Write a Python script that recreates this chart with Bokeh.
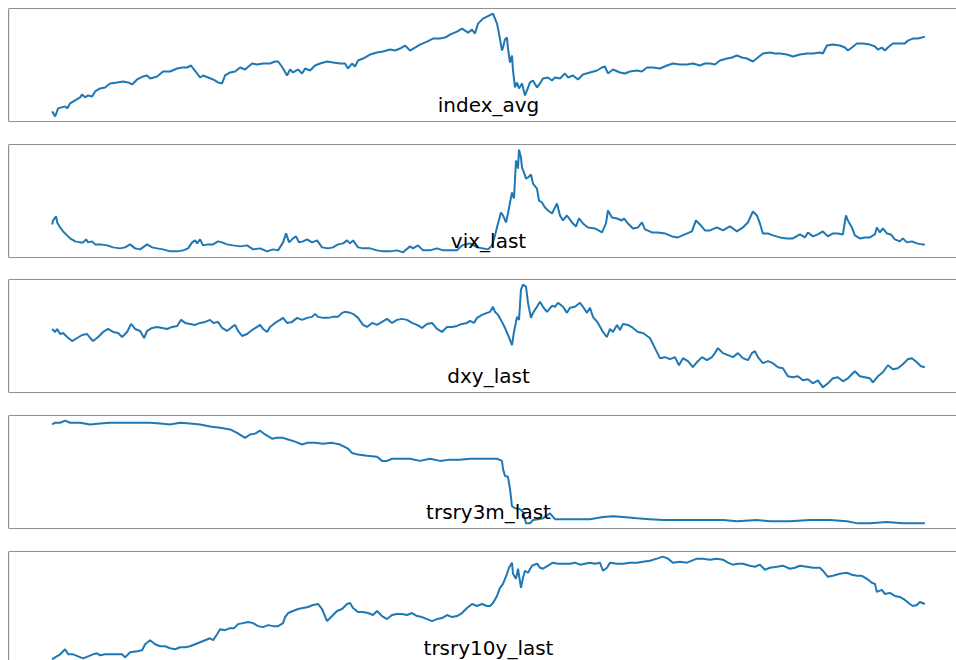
from bokeh.plotting import figure
from bokeh.layouts import column
from bokeh.models import Span, Label, Range1d
from bokeh.embed import file_html
from bokeh.resources import INLINE

# ---------------- data (day = days since the first observation) ----------------
index_avg_day = [
    0, 3, 6, 13, 15, 18, 23, 28, 30, 33,
    36, 40, 43, 48, 53, 58, 65, 71, 76, 80,
    85, 91, 95, 98, 105, 111, 118, 125, 130, 135,
    139, 141, 145, 148, 151, 156, 161, 166, 170, 173,
    178, 183, 188, 193, 200, 205, 211, 218, 223, 226,
    229, 231, 235, 238, 241, 246, 250, 253, 258, 263,
    268, 275, 281, 288, 293, 296, 300, 303, 306, 311,
    318, 325, 331, 338, 343, 348, 353, 358, 363, 368,
    375, 381, 388, 393, 398, 405, 410, 413, 416, 420,
    423, 426, 431, 435, 439, 441, 445, 447, 450, 451,
    453, 455, 456, 458, 460, 461, 463, 465, 467, 470,
    473, 475, 478, 481, 485, 488, 491, 496, 500, 503,
    508, 513, 516, 521, 526, 531, 538, 545, 550, 553,
    556, 561, 568, 573, 578, 585, 590, 595, 601, 608,
    615, 621, 628, 635, 641, 648, 653, 658, 663, 668,
    675, 680, 685, 690, 695, 701, 706, 711, 718, 723,
    728, 735, 741, 748, 755, 761, 768, 771, 775, 781,
    788, 793, 796, 800, 805, 811, 818, 823, 826, 830,
    833, 836, 841, 848, 853, 856, 861, 866, 870, 873,
]
index_avg = [
    2120, 2020, 2180, 2220, 2180, 2280, 2340, 2400, 2460, 2400,
    2440, 2420, 2520, 2580, 2600, 2680, 2700, 2720, 2700, 2660,
    2760, 2820, 2840, 2780, 2820, 2920, 2920, 2980, 3000, 3000,
    3040, 2980, 2880, 2800, 2840, 2800, 2760, 2700, 2680, 2840,
    2900, 2920, 3000, 2960, 3080, 3060, 3080, 3080, 3120, 3120,
    3040, 2980, 2840, 2960, 2900, 2960, 2880, 2980, 2940, 3040,
    3080, 3120, 3100, 3080, 3080, 2980, 3080, 3020, 3140, 3180,
    3260, 3300, 3320, 3360, 3340, 3380, 3440, 3340, 3400, 3460,
    3520, 3580, 3580, 3600, 3660, 3720, 3780, 3740, 3700, 3760,
    3680, 3880, 3980, 4020, 4060, 4080, 3880, 3680, 3340, 3400,
    3560, 3600, 3380, 3100, 3240, 2940, 2600, 2700, 2580, 2680,
    2440, 2540, 2700, 2740, 2600, 2680, 2780, 2800, 2740, 2800,
    2780, 2880, 2800, 2840, 2760, 2860, 2900, 2940, 3000, 3020,
    2880, 2960, 2900, 2880, 2920, 2940, 2920, 3000, 3000, 2980,
    3040, 3080, 3060, 3060, 3080, 3040, 3080, 3080, 3060, 3140,
    3180, 3200, 3240, 3200, 3180, 3120, 3200, 3280, 3300, 3280,
    3280, 3260, 3220, 3260, 3280, 3280, 3300, 3280, 3440, 3460,
    3440, 3400, 3340, 3400, 3480, 3480, 3460, 3420, 3360, 3400,
    3340, 3400, 3480, 3480, 3480, 3540, 3580, 3580, 3600, 3620,
]

vix_last_day = [
    0, 1, 4, 5, 8, 11, 15, 18, 23, 28,
    31, 34, 36, 40, 43, 48, 55, 61, 68, 73,
    78, 83, 88, 95, 100, 105, 111, 118, 125, 131,
    136, 140, 143, 145, 148, 151, 156, 161, 166, 170,
    175, 181, 188, 195, 201, 208, 215, 221, 226, 231,
    234, 237, 241, 244, 247, 251, 255, 260, 265, 270,
    276, 281, 286, 291, 295, 298, 301, 306, 311, 318,
    325, 331, 338, 345, 351, 358, 361, 366, 371, 378,
    385, 391, 398, 405, 410, 418, 425, 431, 436, 440,
    443, 446, 449, 451, 454, 456, 458, 460, 462, 464,
    466, 467, 469, 470, 472, 474, 476, 479, 481, 485,
    487, 490, 493, 496, 500, 503, 505, 508, 511, 515,
    520, 524, 527, 531, 536, 543, 550, 554, 556, 560,
    565, 570, 572, 576, 581, 586, 590, 593, 600, 606,
    613, 620, 626, 633, 640, 644, 648, 653, 658, 665,
    671, 678, 685, 691, 696, 701, 705, 708, 711, 716,
    721, 728, 735, 741, 748, 753, 756, 761, 766, 771,
    776, 781, 786, 791, 794, 796, 800, 803, 808, 813,
    818, 823, 825, 828, 831, 835, 839, 843, 848, 851,
    855, 860, 865, 870, 873,
]
vix_last = [
    29.9, 32.7, 35.5, 31.3, 27.8, 25.0, 22.2, 20.1, 18.0, 17.3,
    17.3, 19.4, 17.3, 18.0, 15.9, 15.9, 15.2, 13.8, 13.1, 13.8,
    15.9, 13.1, 12.4, 15.9, 13.8, 13.1, 12.4, 11.0, 11.0, 11.7,
    13.1, 17.3, 18.7, 16.6, 19.4, 15.2, 15.9, 15.9, 18.0, 17.3,
    15.9, 15.2, 14.5, 15.2, 12.4, 13.1, 11.0, 12.4, 11.7, 17.3,
    23.6, 17.3, 20.1, 21.5, 17.3, 18.0, 19.4, 17.3, 18.7, 13.8,
    13.1, 13.8, 15.9, 16.6, 18.7, 16.6, 18.7, 13.8, 13.1, 13.1,
    11.7, 11.0, 11.0, 11.7, 10.3, 14.5, 13.1, 15.2, 11.7, 11.7,
    13.1, 11.7, 11.7, 11.7, 15.2, 16.6, 13.8, 13.1, 12.4, 15.2,
    22.2, 30.6, 38.3, 36.2, 31.3, 37.6, 45.3, 52.3, 48.1, 74.7,
    69.1, 82.4, 76.8, 69.8, 66.3, 62.1, 62.8, 64.9, 58.6, 55.1,
    46.7, 45.3, 41.8, 39.7, 37.6, 41.8, 44.6, 36.2, 32.7, 36.2,
    31.3, 28.5, 34.1, 30.6, 27.8, 27.1, 24.3, 30.6, 39.7, 34.8,
    34.1, 32.7, 34.1, 30.6, 27.1, 27.8, 31.3, 26.4, 24.3, 24.3,
    23.6, 21.5, 20.8, 22.9, 25.0, 32.7, 29.9, 25.7, 25.7, 27.8,
    25.7, 28.5, 25.0, 27.8, 31.3, 39.0, 36.2, 30.6, 23.6, 23.6,
    22.2, 20.8, 20.1, 20.1, 22.9, 20.8, 24.3, 21.5, 22.9, 25.0,
    21.5, 23.6, 23.6, 22.9, 36.2, 32.7, 27.8, 22.2, 20.1, 20.8,
    20.8, 22.9, 27.8, 24.3, 27.1, 23.6, 22.9, 19.4, 18.0, 20.1,
    17.3, 18.0, 16.6, 15.9, 15.9,
]

dxy_last_day = [
    0, 3, 5, 8, 11, 15, 20, 25, 30, 35,
    38, 41, 46, 51, 56, 61, 66, 70, 75, 79,
    83, 88, 92, 95, 100, 105, 110, 115, 120, 125,
    129, 133, 138, 143, 148, 153, 158, 161, 166, 170,
    175, 180, 183, 186, 190, 195, 200, 205, 208, 211,
    215, 218, 223, 228, 231, 235, 240, 245, 250, 255,
    260, 263, 266, 271, 276, 281, 286, 290, 293, 298,
    301, 306, 311, 315, 320, 325, 330, 335, 340, 345,
    350, 355, 360, 365, 370, 375, 380, 385, 390, 395,
    400, 405, 410, 415, 418, 422, 425, 430, 435, 438,
    441, 443, 446, 450, 453, 456, 460, 462, 465, 467,
    469, 471, 474, 476, 479, 481, 485, 488, 491, 495,
    500, 503, 506, 511, 515, 518, 523, 528, 531, 535,
    538, 541, 546, 551, 555, 558, 561, 565, 568, 571,
    576, 581, 586, 591, 598, 603, 608, 613, 618, 623,
    627, 631, 636, 641, 645, 650, 655, 660, 663, 666,
    671, 676, 681, 686, 691, 696, 700, 703, 706, 711,
    716, 721, 726, 731, 736, 741, 746, 751, 756, 761,
    766, 771, 776, 781, 786, 791, 796, 803, 808, 813,
    818, 821, 826, 831, 836, 841, 846, 851, 856, 860,
    865, 869, 873,
]
dxy_last = [
    96.94, 96.55, 96.94, 96.29, 96.42, 95.90, 95.38, 95.77, 96.16, 96.29,
    95.77, 95.38, 95.90, 96.55, 96.94, 96.55, 96.42, 95.90, 96.55, 97.59,
    96.94, 96.68, 95.77, 96.68, 97.07, 97.20, 97.07, 96.94, 97.20, 97.33,
    98.11, 97.72, 97.59, 97.46, 97.72, 97.85, 98.11, 97.72, 97.85, 97.07,
    96.68, 97.20, 97.46, 96.68, 96.03, 96.29, 96.81, 97.20, 97.46, 96.94,
    96.55, 97.20, 97.72, 98.11, 98.37, 97.72, 97.85, 98.37, 98.11, 98.37,
    98.50, 98.89, 98.50, 98.37, 98.37, 98.50, 98.50, 99.02, 99.15, 99.02,
    98.89, 98.37, 97.46, 97.20, 97.72, 97.46, 97.85, 98.24, 97.72, 98.11,
    98.24, 98.11, 97.72, 97.46, 97.07, 97.59, 97.72, 96.94, 96.55, 97.20,
    97.20, 97.33, 97.59, 97.72, 97.98, 97.72, 98.37, 98.76, 99.02, 99.15,
    99.80, 99.15, 98.76, 97.85, 97.07, 96.16, 94.86, 96.55, 98.50, 98.11,
    102.01, 102.66, 102.40, 100.32, 98.37, 99.02, 99.80, 100.45, 99.80, 99.15,
    99.93, 99.80, 100.32, 99.80, 99.02, 99.67, 99.80, 100.32, 99.80, 99.02,
    99.67, 98.50, 97.72, 96.55, 95.90, 96.94, 96.55, 97.46, 96.81, 97.59,
    97.46, 97.07, 96.55, 96.42, 95.77, 94.47, 93.17, 93.30, 93.04, 93.30,
    92.26, 93.17, 92.78, 92.00, 92.65, 93.30, 92.91, 93.30, 93.82, 94.47,
    93.82, 93.56, 93.30, 93.82, 93.17, 92.91, 93.82, 94.08, 93.30, 92.52,
    92.78, 92.52, 92.00, 91.87, 90.83, 90.70, 90.83, 90.31, 90.44, 89.92,
    90.31, 89.40, 89.92, 90.57, 90.70, 90.18, 90.57, 91.48, 90.83, 90.70,
    90.57, 90.05, 90.83, 91.35, 92.26, 91.74, 91.87, 92.39, 93.04, 93.17,
    92.65, 92.13, 92.00,
]

trsry3m_last_day = [
    0, 3, 8, 13, 18, 28, 38, 48, 58, 68,
    78, 88, 98, 108, 118, 128, 138, 148, 158, 168,
    178, 185, 193, 198, 203, 208, 213, 220, 225, 231,
    236, 243, 250, 255, 263, 271, 280, 288, 296, 300,
    306, 315, 325, 330, 335, 340, 348, 358, 368, 378,
    388, 398, 408, 418, 428, 438, 445, 450, 451, 453,
    456, 458, 460, 463, 468, 471, 474, 478, 481, 486,
    491, 498, 503, 511, 525, 538, 551, 561, 571, 585,
    598, 611, 631, 651, 671, 685, 705, 718, 738, 758,
    778, 795, 806, 818, 835, 851, 873,
]
trsry3m_last = [
    2.38, 2.42, 2.42, 2.47, 2.42, 2.42, 2.38, 2.40, 2.42, 2.42,
    2.42, 2.42, 2.42, 2.40, 2.38, 2.42, 2.40, 2.38, 2.33, 2.30,
    2.26, 2.18, 2.06, 2.14, 2.16, 2.23, 2.14, 2.04, 2.06, 2.06,
    2.02, 1.97, 1.90, 1.94, 1.94, 1.92, 1.94, 1.90, 1.80, 1.70,
    1.66, 1.63, 1.61, 1.51, 1.51, 1.56, 1.56, 1.56, 1.51, 1.56,
    1.51, 1.54, 1.54, 1.56, 1.56, 1.56, 1.56, 1.51, 1.32, 1.15,
    1.13, 0.84, 0.43, 0.38, 0.36, 0.29, 0.02, 0.02, 0.10, 0.12,
    0.14, 0.26, 0.12, 0.12, 0.12, 0.12, 0.17, 0.19, 0.17, 0.14,
    0.12, 0.10, 0.10, 0.10, 0.10, 0.07, 0.10, 0.07, 0.07, 0.10,
    0.10, 0.07, 0.02, 0.02, 0.05, 0.02, 0.02,
]

trsry10y_last_day = [
    0, 3, 8, 13, 16, 21, 26, 31, 36, 41,
    45, 48, 53, 58, 65, 70, 73, 78, 85, 90,
    93, 98, 103, 108, 113, 118, 123, 128, 133, 138,
    143, 148, 153, 158, 161, 165, 168, 173, 178, 182,
    186, 191, 196, 201, 206, 211, 216, 221, 226, 231,
    233, 236, 241, 246, 251, 256, 261, 266, 270, 275,
    280, 285, 290, 295, 298, 301, 306, 311, 316, 321,
    325, 330, 335, 340, 345, 350, 355, 360, 365, 370,
    375, 380, 385, 390, 395, 400, 405, 410, 415, 420,
    425, 430, 435, 438, 441, 445, 448, 451, 455, 457,
    460, 461, 464, 466, 469, 471, 473, 476, 480, 485,
    488, 491, 496, 501, 506, 511, 518, 523, 528, 533,
    538, 543, 548, 551, 555, 558, 565, 571, 578, 585,
    591, 598, 605, 611, 616, 621, 628, 635, 640, 645,
    651, 658, 665, 671, 676, 681, 686, 691, 698, 703,
    708, 713, 718, 725, 731, 738, 743, 748, 755, 761,
    768, 771, 776, 781, 788, 795, 800, 805, 810, 815,
    820, 823, 825, 830, 833, 838, 843, 848, 853, 858,
    861, 865, 868, 873,
]
trsry10y_last = [
    120.0, 120.4, 121.0, 122.0, 121.0, 121.0, 120.6, 120.2, 120.6, 121.0,
    121.2, 120.8, 121.0, 121.0, 121.0, 121.0, 120.4, 121.4, 121.6, 121.8,
    123.0, 123.8, 123.0, 122.6, 122.6, 122.2, 122.0, 122.4, 122.4, 122.6,
    123.0, 123.4, 123.8, 124.2, 123.8, 125.0, 126.0, 125.8, 126.2, 126.2,
    127.0, 127.2, 127.4, 127.2, 126.6, 126.4, 126.8, 126.6, 126.6, 127.2,
    128.4, 129.2, 129.6, 130.0, 130.2, 130.4, 130.8, 131.0, 130.0, 127.6,
    128.6, 129.6, 130.0, 131.0, 131.2, 130.2, 129.4, 129.4, 129.2, 128.8,
    129.6, 128.6, 128.0, 128.8, 129.0, 129.0, 128.8, 129.2, 128.6, 128.4,
    128.0, 127.6, 128.0, 128.2, 128.8, 128.4, 128.6, 129.2, 130.2, 131.0,
    130.6, 131.0, 130.6, 130.6, 131.2, 132.6, 134.2, 135.0, 137.0, 138.2,
    139.2, 137.0, 136.0, 138.0, 134.2, 136.2, 137.6, 137.2, 138.6, 139.0,
    138.2, 138.0, 138.6, 139.2, 139.0, 139.0, 139.0, 139.2, 138.8, 139.0,
    139.2, 139.0, 139.2, 137.6, 138.2, 139.2, 139.0, 139.0, 139.2, 139.2,
    139.4, 139.6, 140.0, 140.4, 140.0, 139.2, 139.4, 139.2, 139.6, 140.0,
    140.0, 139.8, 140.0, 139.8, 139.2, 138.8, 139.0, 139.0, 138.6, 138.4,
    138.8, 137.8, 138.2, 138.4, 138.6, 138.0, 138.2, 138.6, 138.4, 138.2,
    138.2, 137.6, 136.4, 136.6, 137.0, 137.2, 136.8, 136.6, 136.6, 136.0,
    135.2, 135.0, 133.4, 133.8, 133.0, 133.2, 132.6, 132.4, 131.8, 131.0,
    130.6, 130.8, 131.4, 131.0,
]

panels = [
    ("index_avg", index_avg_day, index_avg),
    ("vix_last", vix_last_day, vix_last),
    ("dxy_last", dxy_last_day, dxy_last),
    ("trsry3m_last", trsry3m_last_day, trsry3m_last),
    ("trsry10y_last", trsry10y_last_day, trsry10y_last),
]

# ---------------- layout ----------------
WIDTH = 956          # page width; the axes start 8px in and run past the right edge
LEFT = 8
AXES_W = 960         # full width of the original axes (the right edge is cropped)
AXES_H = 113         # height of one axes box
fig_heights = [143, 135, 136, 136, 110]
top_border = [8, 1, 1, 1, 1]
gap_below = [22, 21, 22, 22, 0]
TITLE_POS = 96        # title anchor, px below the top of the axes box
MARGIN = 0.05         # autoscale padding
LINE_COLOR = "#1f77b4"
FRAME_COLOR = "#222222"

all_days = [d for _, days, _ in panels for d in days]
xmin, xmax = min(all_days), max(all_days)
xspan = (xmax - xmin) * (1 + 2 * MARGIN)
x0 = xmin - MARGIN * (xmax - xmin)
x1 = x0 + xspan * (WIDTH - LEFT) / AXES_W
x_title = x0 + xspan / 2

figs = []
for (name, days, vals), h, tb, gb in zip(panels, fig_heights, top_border, gap_below):
    frame_h = h - tb - gb
    lo, hi = min(vals), max(vals)
    yspan = (hi - lo) * (1 + 2 * MARGIN)
    y1 = hi + MARGIN * (hi - lo)
    y0 = y1 - yspan * frame_h / AXES_H
    p = figure(width=WIDTH, height=h,
               x_range=Range1d(x0, x1), y_range=Range1d(y0, y1),
               output_backend="svg", toolbar_location=None,
               x_axis_location=None, y_axis_location=None,
               min_border_left=LEFT, min_border_right=0,
               min_border_top=tb, min_border_bottom=gb)
    p.grid.visible = False
    p.outline_line_color = None
    p.background_fill_color = "white"
    p.border_fill_color = "white"
    p.line(days, vals, line_color=LINE_COLOR, line_width=2)

    p.add_layout(Span(location=x0, dimension="height", line_color=FRAME_COLOR, line_width=1.2))
    p.add_layout(Span(location=y1, dimension="width", line_color=FRAME_COLOR, line_width=1.2))
    if gb > 0:
        p.add_layout(Span(location=y0, dimension="width", line_color=FRAME_COLOR, line_width=1.2))

    p.add_layout(Label(x=x_title, y=y1 - yspan * TITLE_POS / AXES_H, text=name,
                       text_align="center", text_baseline="alphabetic",
                       text_font="DejaVu Sans", text_font_size="20px",
                       text_color="black"))
    figs.append(p)

layout = column(*figs, spacing=0)

open("out.html", "w").write(file_html(layout, INLINE))
